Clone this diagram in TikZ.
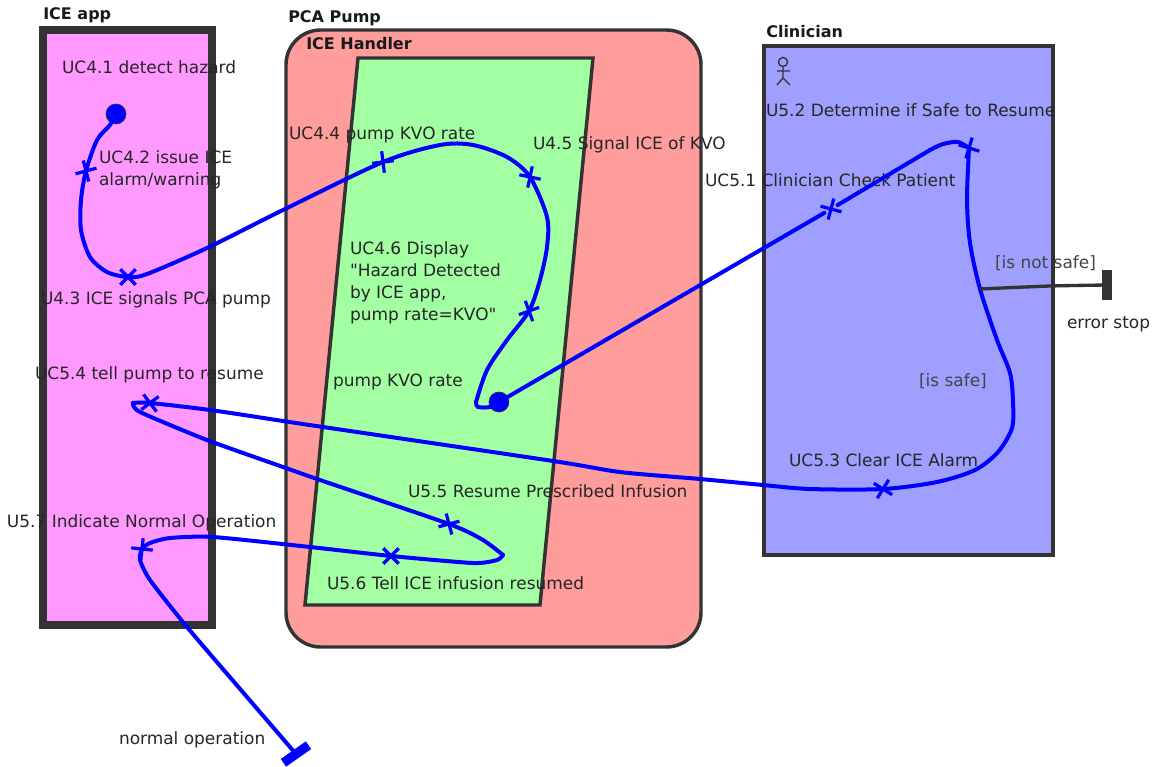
\documentclass[tikz,border=0pt]{standalone}
\usepackage{fontspec}
\newfontfamily\lbl{DejaVu Sans}
\usetikzlibrary{shapes.misc}
\definecolor{frame}{HTML}{333333}
\definecolor{appfill}{HTML}{FF99FF}
\definecolor{pumpfill}{HTML}{FF9C9C}
\definecolor{handlerfill}{HTML}{A2FFA2}
\definecolor{clinfill}{HTML}{9F9FFF}
\definecolor{flow}{HTML}{0000FF}
\definecolor{guardtxt}{HTML}{444444}
\tikzset{
  lab/.style={anchor=base west,inner sep=0pt,outer sep=0pt,text=black!85,font=\lbl\fontsize{12.72pt}{16.5pt}\selectfont,align=left},
  grd/.style={lab,text=guardtxt},
  ttl/.style={anchor=base west,inner sep=0pt,text=black!90,font=\lbl\fontsize{12pt}{13pt}\selectfont\bfseries},
  xmark/.style={cross out,draw=flow,line width=2.4pt,minimum size=11.5pt,inner sep=0pt,outer sep=0pt},
  flowline/.style={draw=flow,line width=3pt,line join=round,line cap=round},
  startdot/.style={circle,fill=flow,draw=frame,line width=0.5pt,minimum size=15pt,inner sep=0pt},
  box/.style={draw=frame,line join=miter},
  endbar/.style={rectangle,inner sep=0pt,minimum width=7pt,minimum height=23pt},
}
\begin{document}
\begin{tikzpicture}[x=0.75pt,y=-0.75pt]
\useasboundingbox (0,0) rectangle (1156,767);
% containers
\draw[box,fill=appfill,line width=6pt] (43,30) rectangle (212,624.5);
\draw[box,fill=pumpfill,line width=2.6pt,rounded corners=26pt] (286,30) rectangle (701,647);
\draw[box,fill=handlerfill,line width=2.6pt] (358,58) -- (593,58) -- (540,605) -- (305,605) -- cycle;
\draw[box,fill=clinfill,line width=3pt] (764,46) rectangle (1053,555);
% actor
\draw[frame,line width=1pt] (783,62) circle (3.4pt) (783,67) -- (783,78) (777,71) -- (790,71) (777,85) -- (783,78) -- (790,85);
% titles
\node[ttl] (tApp) at (43,20) {ICE app};
\node[ttl] (tPump) at (288,23) {PCA Pump};
\node[ttl] (tHandler) at (306,50) {ICE Handler};
\node[ttl] (tClin) at (766,38) {Clinician};
% labels
\node[lab] (l41) at (62,74) {UC4.1 detect hazard};
\node[lab,anchor=north west] (l42) at (99,151) {UC4.2 issue ICE\\alarm/warning};
\node[lab] (l43) at (41,304) {U4.3 ICE signals PCA pump};
\node[lab] (l44) at (289,139) {UC4.4 pump KVO rate};
\node[lab] (l45) at (533,149) {U4.5 Signal ICE of KVO};
\node[lab,anchor=north west] (l46) at (350,242) {UC4.6 Display\\"Hazard Detected\\by ICE app,\\pump rate=KVO"};
\node[lab] (lkvo) at (333,386) {pump KVO rate};
\node[lab] (l54) at (35,379) {UC5.4 tell pump to resume};
\node[lab] (l55) at (408,497) {U5.5 Resume Prescribed Infusion};
\node[lab] (l57) at (7,527) {U5.7 Indicate Normal Operation};
\node[lab] (l56) at (327,589) {U5.6 Tell ICE infusion resumed};
\node[lab] (lnorm) at (119,744) {normal operation};
\node[lab] (l52) at (766,116) {U5.2 Determine if Safe to Resume};
\node[lab] (l51) at (705,186) {UC5.1 Clinician Check Patient};
\node[grd] (gnot) at (995,268) {[is not safe]};
\node[lab] (lerr) at (1067,328) {error stop};
\node[grd] (gsafe) at (919,386) {[is safe]};
\node[lab] (l53) at (789,466) {UC5.3 Clear ICE Alarm};
% states
\node[startdot] (s1) at (116,114) {};
\node[startdot] (s2) at (499,402) {};
\node[xmark,rotate=-30] (m42) at (86,171) {};
\node[xmark] (m43) at (128,277) {};
\node[xmark,rotate=-38] (m44) at (383,162) {};
\node[xmark,rotate=33] (m45) at (530,177) {};
\node[xmark,rotate=-25] (m46) at (529,311) {};
\node[xmark,rotate=30] (m51) at (831,209) {};
\node[xmark,rotate=28] (m52) at (969,148) {};
\node[xmark,rotate=13] (m53) at (883,489) {};
\node[xmark,rotate=-8] (m54) at (150,403) {};
\node[xmark,rotate=-30] (m55) at (449,524) {};
\node[xmark] (m56) at (391,556) {};
\node[xmark,rotate=39] (m57) at (142,549) {};
\node[endbar,fill=frame] (e1) at (1107,285) {};
\node[endbar,fill=flow,rotate=-55] (e2) at (296,754) {};
\coordinate (tail) at (476,402);
\coordinate (branch) at (980,289);
\coordinate (tipA) at (133,403);
\coordinate (tipB) at (503,555);
% connectors
\draw[flowline] plot[smooth,tension=0.5] coordinates {(s1) (110,125) (97,140) (m42) (81,200) (81,230) (90,257) (107,272) (m43) (147,274) (207,248) (283,210) (m44) (440,145) (473,145) (507,157) (m45) (547,217) (547,247) (540,280) (m46) (507,340) (487,370) (tail)};
\draw[flowline] plot[smooth,tension=0.5] coordinates {(tail) (478,407) (490,407) (s2)};
\draw[flowline] (s2) -- (m51) -- (930,150);
\draw[flowline] plot[smooth,tension=0.5] coordinates {(930,150) (943,144) (958,142) (m52)};
\draw[flowline] plot[smooth,tension=0.5] coordinates {(m52) (967,200) (970,243) (branch) (997,340) (1010,373) (1013,402) (1012,428) (998,452) (975,470) (937,482) (m53) (810,489) (763,485) (700,479) (620,472) (553,461) (323,427) (283,421) (210,410) (m54) (tipA)};
\draw[flowline] plot[smooth,tension=0.4] coordinates {(tipA) (140,412) (207,440) (283,467) (320,480) (m55) (483,540) (tipB)};
\draw[flowline] plot[smooth,tension=0.4] coordinates {(tipB) (497,560) (473,563) (m56) (310,547) (213,537) (170,538) (150,543) (m57) (140,560) (150,580) (187,627) (247,697) (e2)};
\draw[frame,line width=2.5pt] plot[smooth,tension=0.4] coordinates {(branch) (1050,286) (e1)};
\end{tikzpicture}
\end{document}
